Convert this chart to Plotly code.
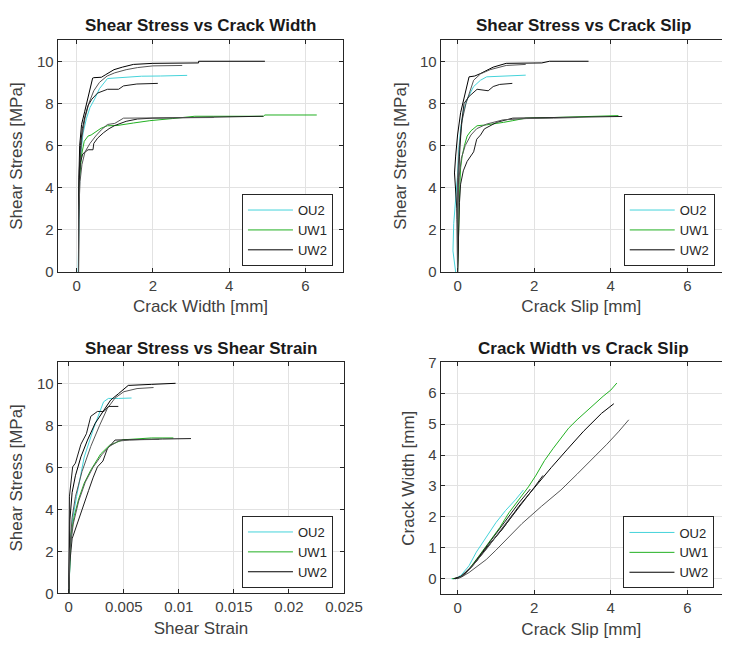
import plotly.graph_objects as go

# ---------------- data ----------------
SERIES = ["OU2", "UW1", "UW2", "S4", "S5", "S6", "S7"]
COLORS = ["#45d3da", "#22b022", "#000000", "#555555", "#1c1c1c", "#1c1c1c", "#555555"]
IN_LEGEND = [True, True, True, False, False, False, False]

# Shear stress vs crack width
SW_OU2_W = [0.04, 0.05, 0.06, 0.08, 0.12, 0.17, 0.26, 0.35, 0.47, 0.6, 0.81, 1.1, 1.7, 2.2, 2.9]
SW_OU2_S = [0.0, 1.5, 3.0, 4.5, 5.8, 6.6, 7.3, 7.8, 8.2, 8.7, 9.18, 9.22, 9.29, 9.3, 9.33]
SW_UW1_W = [0.05, 0.05, 0.07, 0.1, 0.13, 0.2, 0.3, 0.38, 0.5, 0.64, 0.81, 1.06, 1.49, 1.92, 2.51, 3.1, 3.6, 4.9, 4.94, 6.3]
SW_UW1_S = [0.0, 3.0, 4.2, 5.0, 5.56, 6.2, 6.45, 6.5, 6.65, 6.82, 6.94, 6.95, 7.07, 7.18, 7.28, 7.39, 7.39, 7.39, 7.45, 7.45]
SW_UW2_W = [0.05, 0.05, 0.06, 0.08, 0.13, 0.21, 0.34, 0.42, 0.45, 0.65, 0.75, 0.98, 1.2, 1.49, 2.0, 3.2, 3.2, 4.94]
SW_UW2_S = [0.0, 2.0, 4.5, 6.0, 7.0, 7.6, 8.64, 9.2, 9.22, 9.24, 9.35, 9.6, 9.72, 9.85, 9.9, 9.92, 10.0, 10.0]
SW_S4_W = [0.05, 0.06, 0.09, 0.14, 0.22, 0.32, 0.45, 0.6, 0.8, 1.0, 1.3, 1.6, 2.0, 2.77]
SW_S4_S = [0.0, 3.5, 5.2, 6.4, 7.3, 8.0, 8.6, 9.0, 9.3, 9.45, 9.6, 9.7, 9.78, 9.8]
SW_S5_W = [0.05, 0.05, 0.07, 0.1, 0.15, 0.22, 0.3, 0.4, 0.55, 0.7, 0.81, 1.1, 1.23, 1.58, 2.13]
SW_S5_S = [0.0, 2.5, 4.8, 6.0, 6.8, 7.4, 7.9, 8.2, 8.49, 8.6, 8.67, 8.67, 8.83, 8.92, 8.95]
SW_S6_W = [0.05, 0.05, 0.07, 0.1, 0.16, 0.25, 0.3, 0.43, 0.45, 0.55, 0.7, 0.85, 1.0, 1.3, 1.6, 2.0, 3.0, 3.6, 4.9]
SW_S6_S = [0.0, 2.5, 4.5, 5.2, 5.6, 5.75, 5.8, 5.8, 6.1, 6.35, 6.6, 6.8, 6.95, 7.15, 7.26, 7.3, 7.32, 7.35, 7.39]
SW_S7_W = [0.05, 0.06, 0.09, 0.14, 0.22, 0.35, 0.5, 0.65, 0.81, 1.0, 1.23, 1.8, 2.5, 3.6]
SW_S7_S = [0.0, 3.0, 4.3, 5.1, 5.7, 6.1, 6.45, 6.75, 7.0, 7.05, 7.3, 7.3, 7.32, 7.33]

# Shear stress vs crack slip
SS_OU2_X = [-0.05, -0.12, -0.1, -0.05, 0.0, 0.03, 0.08, 0.15, 0.25, 0.42, 0.6, 0.76, 1.1, 1.4, 1.78]
SS_OU2_S = [0.0, 1.0, 2.3, 3.5, 4.6, 5.8, 6.8, 7.6, 8.2, 8.8, 9.1, 9.26, 9.28, 9.3, 9.34]
SS_UW1_X = [0.0, 0.02, 0.04, 0.06, 0.08, 0.12, 0.18, 0.25, 0.35, 0.51, 0.75, 0.93, 1.2, 1.44, 1.78, 2.5, 3.2, 4.2]
SS_UW1_S = [0.0, 2.0, 3.5, 4.17, 4.94, 5.5, 6.0, 6.45, 6.7, 6.94, 6.98, 7.02, 7.1, 7.18, 7.3, 7.33, 7.38, 7.42]
SS_UW2_X = [0.0, 0.02, -0.02, -0.05, -0.08, -0.05, 0.0, 0.08, 0.2, 0.3, 0.45, 0.59, 0.93, 1.27, 2.2, 2.4, 3.42]
SS_UW2_S = [0.0, 1.5, 3.0, 4.0, 4.7, 5.5, 6.5, 7.56, 8.5, 9.26, 9.3, 9.41, 9.72, 9.9, 9.92, 10.0, 10.0]
SS_S4_X = [0.0, -0.02, 0.0, 0.05, 0.12, 0.22, 0.42, 0.6, 0.85, 1.27, 1.78]
SS_S4_S = [0.0, 2.5, 4.5, 6.0, 7.2, 8.0, 9.1, 9.4, 9.6, 9.8, 9.85]
SS_S5_X = [0.0, 0.0, 0.02, 0.05, 0.1, 0.17, 0.3, 0.51, 0.8, 0.93, 1.1, 1.43]
SS_S5_S = [0.0, 2.0, 4.0, 5.5, 7.0, 8.0, 8.33, 8.67, 8.6, 8.8, 8.9, 8.95]
SS_S6_X = [0.0, 0.02, 0.05, 0.08, 0.15, 0.25, 0.35, 0.42, 0.5, 0.6, 0.7, 0.85, 1.02, 1.44, 2.0, 3.0, 4.3]
SS_S6_S = [0.0, 2.0, 3.3, 4.17, 4.8, 5.25, 5.5, 5.7, 6.3, 6.5, 6.79, 6.95, 7.1, 7.3, 7.32, 7.35, 7.38]
SS_S7_X = [0.0, 0.0, 0.04, 0.1, 0.2, 0.35, 0.5, 0.76, 1.19, 1.8, 2.5, 3.13]
SS_S7_S = [0.0, 3.0, 4.5, 5.4, 6.0, 6.5, 6.8, 7.02, 7.22, 7.28, 7.3, 7.33]

# Shear stress vs shear strain
SG_OU2_X = [0.0, 0.0001, 0.0002, 0.00035, 0.0007, 0.0014, 0.00227, 0.00316, 0.0036, 0.0045, 0.0057]
SG_OU2_S = [0.0, 1.5, 2.7, 3.54, 4.6, 6.49, 7.88, 9.12, 9.28, 9.28, 9.3]
SG_UW1_X = [0.0, 0.0001, 0.0002, 0.0005, 0.0009, 0.0014, 0.002, 0.0029, 0.0037, 0.0049, 0.006, 0.0075, 0.0095]
SG_UW1_S = [0.0, 1.8, 2.8, 3.7, 4.5, 5.25, 5.87, 6.64, 7.05, 7.31, 7.35, 7.4, 7.4]
SG_UW2_X = [0.0, 0.00005, 0.0001, 0.0003, 0.0006, 0.0011, 0.0017, 0.0024, 0.0032, 0.0038, 0.0045, 0.0054, 0.0075, 0.0097]
SG_UW2_S = [0.0, 2.0, 3.5, 4.8, 5.6, 6.5, 7.3, 8.1, 8.7, 9.2, 9.5, 9.9, 9.95, 10.0]
SG_S4_X = [0.0, 0.0001, 0.0003, 0.0006, 0.0012, 0.002, 0.0028, 0.0035, 0.0042, 0.005, 0.0062, 0.0077]
SG_S4_S = [0.0, 2.2, 3.6, 4.6, 5.8, 7.0, 8.0, 8.8, 9.3, 9.6, 9.75, 9.8]
SG_S5_X = [0.0, 0.00003, 0.00006, 0.00035, 0.0006, 0.0011, 0.0016, 0.002, 0.0026, 0.0032, 0.0036, 0.0045]
SG_S5_S = [0.0, 2.5, 4.63, 6.02, 6.2, 7.1, 7.6, 8.43, 8.66, 8.66, 8.9, 8.9]
SG_S6_X = [0.0, 0.0001, 0.0003, 0.0008, 0.0013, 0.0018, 0.0022, 0.0026, 0.0031, 0.0035, 0.0042, 0.006, 0.0085, 0.0111]
SG_S6_S = [0.0, 1.5, 2.6, 3.39, 4.2, 4.9, 5.5, 6.02, 6.3, 6.88, 7.3, 7.33, 7.35, 7.37]
SG_S7_X = [0.0, 0.0001, 0.0004, 0.0009, 0.0015, 0.0022, 0.003, 0.0037, 0.0045, 0.0055, 0.0068, 0.0082]
SG_S7_S = [0.0, 2.0, 3.3, 4.4, 5.3, 6.0, 6.6, 7.0, 7.25, 7.3, 7.32, 7.33]

# Crack width vs crack slip
WS_OU2_X = [-0.16, -0.05, 0.1, 0.3, 0.49, 0.75, 1.0, 1.25, 1.51, 1.72]
WS_OU2_W = [0.0, 0.0, 0.12, 0.42, 0.86, 1.33, 1.81, 2.2, 2.55, 2.87]
WS_UW1_X = [-0.14, 0.0, 0.15, 0.32, 0.55, 0.83, 1.1, 1.34, 1.6, 1.85, 2.05, 2.27, 2.5, 2.7, 2.9, 3.12, 3.35, 3.55, 3.8, 4.0, 4.16]
WS_UW1_W = [0.0, 0.02, 0.12, 0.34, 0.72, 1.18, 1.65, 2.13, 2.55, 2.97, 3.35, 3.82, 4.22, 4.56, 4.87, 5.14, 5.4, 5.61, 5.9, 6.1, 6.33]
WS_UW2_X = [-0.1, 0.05, 0.2, 0.45, 0.75, 1.17, 1.6, 2.02, 2.45, 2.87, 3.29, 3.76, 4.08]
WS_UW2_W = [0.0, 0.03, 0.2, 0.5, 1.0, 1.6, 2.34, 2.97, 3.6, 4.19, 4.77, 5.35, 5.66]
WS_S4_X = [-0.05, 0.1, 0.3, 0.5, 0.75, 1.0, 1.3, 1.68, 2.19, 2.7, 3.12, 3.55, 3.9, 4.2, 4.47]
WS_S4_W = [0.0, 0.05, 0.2, 0.38, 0.62, 0.92, 1.3, 1.78, 2.34, 2.87, 3.38, 3.9, 4.35, 4.75, 5.14]
WS_S5_X = [-0.1, 0.1, 0.35, 0.65, 1.0, 1.35, 1.7, 2.0, 2.23]
WS_S5_W = [0.0, 0.08, 0.35, 0.8, 1.35, 1.9, 2.45, 2.95, 3.34]
WS_S6_X = [-0.05, 0.15, 0.4, 0.7, 1.0, 1.3, 1.6, 1.9]
WS_S6_W = [0.0, 0.1, 0.45, 0.95, 1.45, 1.95, 2.45, 2.9]
WS_S7_X = [0.0, 0.2, 0.45, 0.75, 1.05, 1.45]
WS_S7_W = [0.0, 0.15, 0.5, 0.95, 1.45, 2.1]

TITLES = ["Shear Stress vs Crack Width", "Shear Stress vs Crack Slip",
          "Shear Stress vs Shear Strain", "Crack Width vs Crack Slip"]
X_LABELS = ["Crack Width [mm]", "Crack Slip [mm]", "Shear Strain", "Crack Slip [mm]"]
Y_LABELS = ["Shear Stress [MPa]", "Shear Stress [MPa]", "Shear Stress [MPa]", "Crack Width [mm]"]
STRAIN_TICKS = [0, 0.005, 0.01, 0.015, 0.02, 0.025]
STRAIN_TICK_TEXT = ["0", "0.005", "0.01", "0.015", "0.02", "0.025"]

PLOTS = [
    [(SW_OU2_W, SW_OU2_S), (SW_UW1_W, SW_UW1_S), (SW_UW2_W, SW_UW2_S), (SW_S4_W, SW_S4_S),
     (SW_S5_W, SW_S5_S), (SW_S6_W, SW_S6_S), (SW_S7_W, SW_S7_S)],
    [(SS_OU2_X, SS_OU2_S), (SS_UW1_X, SS_UW1_S), (SS_UW2_X, SS_UW2_S), (SS_S4_X, SS_S4_S),
     (SS_S5_X, SS_S5_S), (SS_S6_X, SS_S6_S), (SS_S7_X, SS_S7_S)],
    [(SG_OU2_X, SG_OU2_S), (SG_UW1_X, SG_UW1_S), (SG_UW2_X, SG_UW2_S), (SG_S4_X, SG_S4_S),
     (SG_S5_X, SG_S5_S), (SG_S6_X, SG_S6_S), (SG_S7_X, SG_S7_S)],
    [(WS_OU2_X, WS_OU2_W), (WS_UW1_X, WS_UW1_W), (WS_UW2_X, WS_UW2_W), (WS_S4_X, WS_S4_W),
     (WS_S5_X, WS_S5_W), (WS_S6_X, WS_S6_W), (WS_S7_X, WS_S7_W)],
]

# ---------------- layout helpers ----------------
W, H = 740, 656


def px(X):
    return X / W


def py(Y):
    return 1 - Y / H


FONT = "Liberation Sans, Arial, Helvetica, sans-serif"
AX_COLOR = "#262626"
GRID = "#e2e2e2"

fig = go.Figure()

axes_ids = ["", "2", "3", "4"]
legend_ids = ["legend", "legend2", "legend3", "legend4"]
for p, curves in enumerate(PLOTS):
    for i, (xs, ys) in enumerate(curves):
        fig.add_trace(go.Scatter(
            x=xs, y=ys, mode="lines", name=SERIES[i],
            line=dict(color=COLORS[i], width=1),
            showlegend=IN_LEGEND[i], legend=legend_ids[p],
            xaxis="x" + axes_ids[p], yaxis="y" + axes_ids[p],
        ))

X_DOM = [[px(59), px(352)], [px(451.7), 1.0], [px(59), px(353)], [px(451.7), 1.0]]
Y_DOM = [[py(270), py(32)], [py(270), py(32)], [py(600), py(362.7)], [py(600.7), py(362.7)]]
X_RANGE = [[-0.5, 7.0], [-0.44, 6.905], [-0.00102, 0.02504], [-0.44, 6.905]]
Y_RANGE = [[0, 11], [0, 11], [0, 11], [-0.5, 7]]

axis_common = dict(
    showline=True, linecolor=AX_COLOR, linewidth=1, ticks="inside", ticklen=4,
    tickcolor=AX_COLOR, showgrid=True, gridcolor=GRID, gridwidth=1, zeroline=False,
    tickfont=dict(family=FONT, size=15, color="#404040"),
)

for p in range(4):
    xa = dict(axis_common, domain=X_DOM[p], range=X_RANGE[p], anchor="y" + axes_ids[p],
              mirror="ticks",
              title=dict(text=X_LABELS[p], font=dict(family=FONT, size=17, color="#404040"), standoff=7))
    if p == 2:
        xa.update(tickvals=STRAIN_TICKS, ticktext=STRAIN_TICK_TEXT)
    else:
        xa.update(tickvals=[0, 2, 4, 6])
    ya = dict(axis_common, domain=Y_DOM[p], range=Y_RANGE[p], anchor="x" + axes_ids[p],
              mirror="ticks" if p in (0, 2) else False,
              title=dict(text=Y_LABELS[p], font=dict(family=FONT, size=17, color="#404040"), standoff=9))
    if p == 3:
        ya.update(tickvals=[0, 1, 2, 3, 4, 5, 6, 7])
    else:
        ya.update(tickvals=[0, 2, 4, 6, 8, 10])
    fig.update_layout(**{"xaxis" + axes_ids[p]: xa, "yaxis" + axes_ids[p]: ya})

TITLE_POS = [(205.5, 17), (598, 17), (206, 349), (598, 349)]
for p in range(4):
    fig.add_annotation(text="<b>" + TITLES[p] + "</b>", xref="paper", yref="paper",
                       x=px(TITLE_POS[p][0]), y=py(TITLE_POS[p][1]), xanchor="center", yanchor="middle",
                       showarrow=False, font=dict(family=FONT, size=17, color="#1a1a1a"))

LEG_POS = [(248, 190), (639.3, 190), (248, 520.5), (639, 521)]
legend_style = dict(bgcolor="white", bordercolor=AX_COLOR, borderwidth=1,
                    font=dict(family=FONT, size=13, color="#262626"),
                    xanchor="left", yanchor="top", xref="paper", yref="paper", itemwidth=45)
for p in range(4):
    fig.update_layout(**{legend_ids[p]: dict(legend_style, x=px(LEG_POS[p][0]), y=py(LEG_POS[p][1]))})

fig.update_layout(
    width=W, height=H, margin=dict(l=0, r=0, t=0, b=0),
    paper_bgcolor="white", plot_bgcolor="white",
    font=dict(family=FONT),
)

fig.write_html("out.html", config={"displayModeBar": False},
               post_script="document.body.style.margin='0';document.body.style.overflow='hidden';")
